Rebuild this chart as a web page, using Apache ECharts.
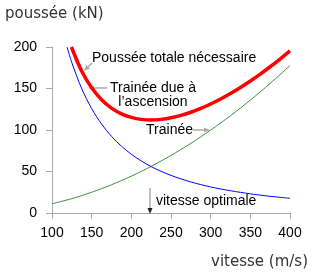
<!DOCTYPE html>
<html>
<head>
<meta charset="utf-8">
<script src="https://cdn.jsdelivr.net/npm/echarts@6/dist/echarts.min.js"></script>
<style>
  html, body { margin: 0; padding: 0; background: #fff; }
  #chart { width: 315px; height: 275px; }
</style>
</head>
<body>
<div id="chart"></div>
<script>
// vitesse (m/s) and poussée (kN)
const vDrag = [100, 125, 150, 175, 200, 225, 250, 275, 300, 325, 350, 375, 400]
const drag = [11.1, 17.3, 25.0, 34.0, 44.4, 56.2, 69.4, 83.9, 99.9, 117.2, 136.0, 156.1, 177.6]

const vInduced = [119, 125, 137.5, 150, 162.5, 175, 187.5, 200, 212.5, 225, 237.5, 250, 262.5, 275,
  287.5, 300, 312.5, 325, 337.5, 350, 362.5, 375, 387.5, 400]
const induced = [199.8, 181.1, 149.7, 125.8, 107.2, 92.4, 80.5, 70.8, 62.7, 55.9, 50.2, 45.3, 41.1, 37.4,
  34.2, 31.4, 29.0, 26.8, 24.9, 23.1, 21.5, 20.1, 18.9, 17.7]

const vTotal = [124.5, 137.5, 150, 162.5, 175, 187.5, 200, 212.5, 225, 237.5, 250, 262.5, 275,
  287.5, 300, 312.5, 325, 337.5, 350, 362.5, 375, 387.5, 400]
const total = [200, 170.7, 150.8, 136.5, 126.4, 119.5, 115.2, 112.8, 112.1, 112.8, 114.7, 117.6, 121.4,
  126.0, 131.3, 137.4, 144.0, 151.3, 159.1, 167.4, 176.2, 185.5, 195.3]

const xTicks = [100, 150, 200, 250, 300, 350, 400]
const yTicks = [0, 50, 100, 150, 200]

const yTitle = 'poussée (kN)'
const xTitle = 'vitesse (m/s)'
const lblTotal = 'Poussée totale nécessaire'
const lblInduced = 'Trainée due à\nl’ascension'
const lblDrag = 'Trainée'
const lblOptimal = 'vitesse optimale'

const pair = (xs, ys) => xs.map((x, i) => [x, ys[i]])

// small helper: gray line with a triangular head at (x2, y2)
const arrow = (x1, y1, x2, y2, color, headColor) => {
  const dx = x2 - x1, dy = y2 - y1
  const len = Math.sqrt(dx * dx + dy * dy)
  const ux = dx / len, uy = dy / len
  const hl = 6, hw = 2.5
  const bx = x2 - ux * hl, by = y2 - uy * hl
  return [
    { type: 'line', z: 1, shape: { x1, y1, x2: bx, y2: by }, style: { stroke: color, lineWidth: 1.5 } },
    { type: 'polygon', z: 1, shape: { points: [[x2, y2], [bx - uy * hw, by + ux * hw], [bx + uy * hw, by - ux * hw]] }, style: { fill: headColor } }
  ]
}

const textEl = (text, x, y, align, extra) => ({
  type: 'text', z: 5, x, y,
  style: Object.assign({
    text, fill: '#000', fontSize: 14, fontFamily: 'Liberation Sans, Arial, sans-serif',
    textAlign: align, textVerticalAlign: 'middle', lineHeight: 14
  }, extra || {})
})

const chart = echarts.init(document.getElementById('chart'), null, { renderer: 'canvas' })

const axisCommon = {
  type: 'value',
  splitLine: { show: false },
  axisLine: { show: true, lineStyle: { color: '#aaa', width: 1 } },
  axisTick: { show: true, length: 6, lineStyle: { color: '#aaa' } },
  axisLabel: { color: '#000', fontSize: 14, fontFamily: 'Liberation Sans, Arial, sans-serif' }
}

const lineSeries = (xs, ys, color, width, z) => ({
  type: 'line', data: pair(xs, ys), smooth: 0.3, symbol: 'none', z,
  lineStyle: { color, width }
})

chart.setOption({
  animation: false,
  grid: { left: 52, right: 25, top: 47, bottom: 62 },
  xAxis: Object.assign({}, axisCommon, {
    min: xTicks[0], max: xTicks[xTicks.length - 1], interval: xTicks[1] - xTicks[0],
    axisLabel: Object.assign({}, axisCommon.axisLabel, { margin: 13 })
  }),
  yAxis: Object.assign({}, axisCommon, {
    min: yTicks[0], max: yTicks[yTicks.length - 1], interval: yTicks[1] - yTicks[0],
    axisLabel: Object.assign({}, axisCommon.axisLabel, { margin: 15 })
  }),
  series: [
    lineSeries(vDrag, drag, '#3d8f3d', 1, 2),
    lineSeries(vInduced, induced, '#0000ff', 1, 2),
    lineSeries(vTotal, total, '#ff0000', 3.5, 3)
  ],
  graphic: [
    textEl(yTitle, 5, 14, 'left', { fill: '#333', fontSize: 15, fontFamily: 'DejaVu Sans, sans-serif' }),
    textEl(xTitle, 308, 262, 'right', { fill: '#333', fontSize: 15, fontFamily: 'DejaVu Sans, sans-serif' }),
    textEl(lblTotal, 92, 58, 'left'),
    textEl(lblInduced, 153, 95, 'center'),
    textEl(lblDrag, 193, 130, 'right'),
    textEl(lblOptimal, 156, 201, 'left'),
    ...arrow(92, 63, 84, 71, '#aaa', '#aaa'),
    ...arrow(107, 88, 88, 88, '#aaa', '#aaa'),
    ...arrow(193, 130, 210, 130, '#aaa', '#aaa'),
    ...arrow(150, 188, 150, 214, '#aaa', '#222')
  ]
})
</script>
</body>
</html>
